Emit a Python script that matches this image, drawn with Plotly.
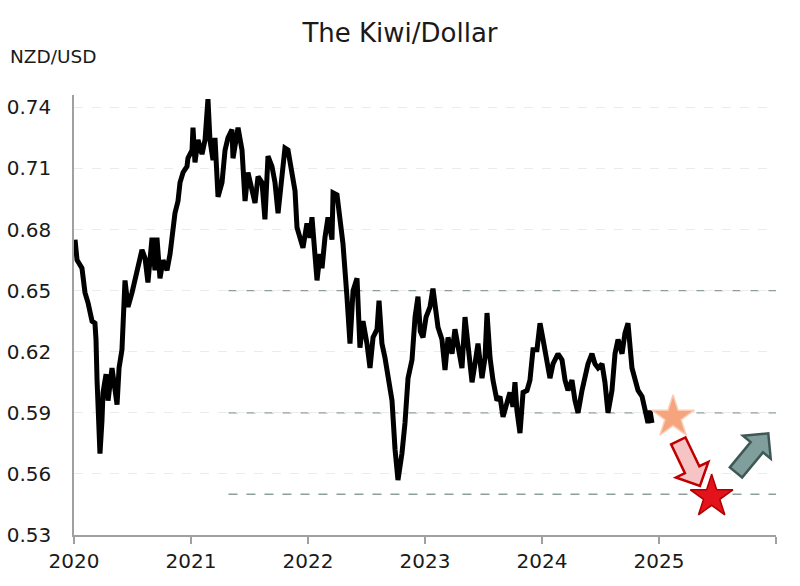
import math
import plotly.graph_objects as go

# ---------------- data ----------------
years = [
    2020.009, 2020.026, 2020.068, 2020.094, 2020.120, 2020.154, 2020.179, 2020.188, 2020.197, 2020.205,
    2020.222, 2020.239, 2020.248, 2020.274, 2020.291, 2020.325, 2020.350, 2020.368, 2020.385, 2020.410,
    2020.436, 2020.462, 2020.496, 2020.521, 2020.547, 2020.581, 2020.607, 2020.632, 2020.667, 2020.692,
    2020.709, 2020.735, 2020.761, 2020.795, 2020.821, 2020.846, 2020.863, 2020.889, 2020.906, 2020.932,
    2020.966, 2020.974, 2021.009, 2021.017, 2021.034, 2021.060, 2021.094, 2021.120, 2021.145, 2021.162,
    2021.188, 2021.205, 2021.231, 2021.265, 2021.291, 2021.316, 2021.350, 2021.359, 2021.402, 2021.436,
    2021.462, 2021.487, 2021.521, 2021.547, 2021.573, 2021.607, 2021.632, 2021.658, 2021.692, 2021.718,
    2021.744, 2021.778, 2021.803, 2021.829, 2021.863, 2021.889, 2021.906, 2021.932, 2021.957, 2021.991,
    2022.017, 2022.034, 2022.060, 2022.077, 2022.103, 2022.120, 2022.145, 2022.171, 2022.205, 2022.214,
    2022.248, 2022.274, 2022.299, 2022.333, 2022.359, 2022.385, 2022.419, 2022.444, 2022.470, 2022.504,
    2022.530, 2022.556, 2022.590, 2022.607, 2022.632, 2022.658, 2022.684, 2022.718, 2022.744, 2022.769,
    2022.803, 2022.829, 2022.855, 2022.889, 2022.915, 2022.940, 2022.960, 2022.983, 2023.009, 2023.043,
    2023.068, 2023.085, 2023.111, 2023.145, 2023.171, 2023.197, 2023.231, 2023.256, 2023.282, 2023.316,
    2023.342, 2023.368, 2023.402, 2023.427, 2023.453, 2023.487, 2023.513, 2023.530, 2023.556, 2023.581,
    2023.615, 2023.641, 2023.667, 2023.701, 2023.726, 2023.752, 2023.769, 2023.786, 2023.812, 2023.838,
    2023.872, 2023.897, 2023.923, 2023.957, 2023.983, 2024.009, 2024.043, 2024.068, 2024.094, 2024.137,
    2024.171, 2024.197, 2024.222, 2024.256, 2024.282, 2024.308, 2024.342, 2024.368, 2024.393, 2024.427,
    2024.453, 2024.479, 2024.513, 2024.538, 2024.564, 2024.598, 2024.624, 2024.650, 2024.684, 2024.709,
    2024.735, 2024.769, 2024.795, 2024.821, 2024.855, 2024.880, 2024.906, 2024.923, 2024.940,
]
nzdusd = [
    0.675, 0.665, 0.661, 0.649, 0.644, 0.635, 0.634, 0.626, 0.606, 0.586,
    0.570, 0.586, 0.600, 0.609, 0.596, 0.612, 0.603, 0.594, 0.612, 0.621,
    0.655, 0.642, 0.649, 0.655, 0.661, 0.670, 0.666, 0.654, 0.676, 0.660,
    0.676, 0.656, 0.665, 0.660, 0.668, 0.678, 0.688, 0.694, 0.703, 0.708,
    0.711, 0.715, 0.719, 0.730, 0.713, 0.724, 0.717, 0.724, 0.744, 0.724,
    0.714, 0.725, 0.696, 0.703, 0.719, 0.725, 0.729, 0.715, 0.730, 0.719,
    0.694, 0.708, 0.699, 0.693, 0.706, 0.703, 0.685, 0.716, 0.711, 0.703,
    0.688, 0.706, 0.720, 0.719, 0.708, 0.699, 0.681, 0.675, 0.671, 0.683,
    0.676, 0.686, 0.668, 0.655, 0.668, 0.661, 0.676, 0.686, 0.675, 0.698,
    0.697, 0.686, 0.673, 0.647, 0.624, 0.650, 0.656, 0.622, 0.635, 0.624,
    0.612, 0.627, 0.631, 0.645, 0.624, 0.617, 0.609, 0.596, 0.572, 0.557,
    0.570, 0.585, 0.607, 0.616, 0.637, 0.647, 0.630, 0.627, 0.637, 0.642,
    0.651, 0.644, 0.632, 0.626, 0.611, 0.627, 0.619, 0.631, 0.622, 0.612,
    0.637, 0.622, 0.605, 0.614, 0.624, 0.607, 0.617, 0.639, 0.617, 0.606,
    0.596, 0.598, 0.588, 0.595, 0.600, 0.593, 0.605, 0.591, 0.580, 0.600,
    0.601, 0.606, 0.621, 0.621, 0.634, 0.626, 0.614, 0.607, 0.614, 0.619,
    0.616, 0.606, 0.601, 0.606, 0.596, 0.590, 0.601, 0.609, 0.614, 0.619,
    0.614, 0.612, 0.614, 0.605, 0.590, 0.601, 0.619, 0.626, 0.619, 0.629,
    0.634, 0.612, 0.607, 0.601, 0.598, 0.591, 0.585, 0.591, 0.585,
]

x_ticks = [2020, 2021, 2022, 2023, 2024, 2025, 2026]
x_tick_text = ["2020", "2021", "2022", "2023", "2024", "2025", ""]
y_ticks = [0.53, 0.56, 0.59, 0.62, 0.65, 0.68, 0.71, 0.74]
y_tick_text = ["0.53", "0.56", "0.59", "0.62", "0.65", "0.68", "0.71", "0.74"]

ref_levels = [0.65, 0.59, 0.55]
ref_start = 2021.32
ref_end = 2026.0

# scenario markers (year, value)
star_now = (2025.12, 0.5879)
star_low = (2025.45, 0.5488)
arrow_down = ((2025.165, 0.5762), (2025.350, 0.5541))
arrow_up = ((2025.658, 0.5607), (2025.934, 0.5799))

X_RANGE = [2020, 2026]
Y_RANGE = [0.53, 0.74604]

# ---------------- layout geometry ----------------
W, H = 800, 586
M_L, M_R, M_T, M_B = 74, 24, 95, 51
PW = W - M_L - M_R
PH = H - M_T - M_B
SX = PW / (X_RANGE[1] - X_RANGE[0])
SY = PH / (Y_RANGE[1] - Y_RANGE[0])

FONT = "DejaVu Sans"


def block_arrow(p0, p1, shaft=8.0, head=18.0, head_len=18.0):
    x0, y0 = p0[0] * SX, p0[1] * SY
    x1, y1 = p1[0] * SX, p1[1] * SY
    dx, dy = x1 - x0, y1 - y0
    L = math.hypot(dx, dy)
    ux, uy = dx / L, dy / L
    nx, ny = -uy, ux
    bx, by = x1 - ux * head_len, y1 - uy * head_len
    pts = [
        (x0 + nx * shaft, y0 + ny * shaft),
        (bx + nx * shaft, by + ny * shaft),
        (bx + nx * head, by + ny * head),
        (x1, y1),
        (bx - nx * head, by - ny * head),
        (bx - nx * shaft, by - ny * shaft),
        (x0 - nx * shaft, y0 - ny * shaft),
    ]
    pts = [(px / SX, py / SY) for px, py in pts]
    return "M " + " L ".join(f"{a:.5f},{b:.6f}" for a, b in pts) + " Z"


fig = go.Figure()

fig.add_trace(go.Scatter(
    x=years, y=nzdusd, mode="lines",
    line=dict(color="#000000", width=5),
    hoverinfo="skip", showlegend=False,
))

fig.add_trace(go.Scatter(
    x=[star_now[0]], y=[star_now[1]], mode="markers",
    marker=dict(symbol="star", size=32, color="#f5a47e",
                line=dict(color="#f9cdb3", width=1.5)),
    showlegend=False, hoverinfo="skip",
))
fig.add_trace(go.Scatter(
    x=[star_low[0]], y=[star_low[1]], mode="markers",
    marker=dict(symbol="star", size=32, color="#e3121b",
                line=dict(color="#b00000", width=1.5)),
    showlegend=False, hoverinfo="skip",
))

shapes = []
for lvl in ref_levels:
    shapes.append(dict(type="line", xref="x", yref="y", x0=ref_start, x1=ref_end,
                       y0=lvl, y1=lvl, layer="below",
                       line=dict(color="#8f9d9d", width=1.3, dash="dash")))
shapes.append(dict(type="path", xref="x", yref="y", path=block_arrow(*arrow_down),
                   fillcolor="#f7c4c5", line=dict(color="#c00000", width=2.5)))
shapes.append(dict(type="path", xref="x", yref="y", path=block_arrow(*arrow_up),
                   fillcolor="#7f9e9c", line=dict(color="#3f5856", width=2.5)))

fig.update_layout(
    width=W, height=H,
    margin=dict(l=M_L, r=M_R, t=M_T, b=M_B, autoexpand=False),
    paper_bgcolor="white", plot_bgcolor="white",
    font=dict(family=FONT, color="#1a1a1a"),
    title=dict(text="The Kiwi/Dollar", x=0.5, xanchor="center",
               y=1 - 33 / H, yref="container", yanchor="middle",
               font=dict(family=FONT, size=26, color="#1a1a1a")),
    shapes=shapes,
    annotations=[dict(text="NZD/USD", xref="paper", yref="paper",
                      x=(8 - M_L) / PW, y=(H - M_B - 57) / PH,
                      xanchor="left", yanchor="middle", showarrow=False,
                      font=dict(family=FONT, size=18.5, color="#1a1a1a"))],
    xaxis=dict(range=X_RANGE, tickvals=x_ticks, ticktext=x_tick_text,
               automargin=False,
               showgrid=False, zeroline=False, showline=True,
               linecolor="#a0a0a0", linewidth=1.5, ticks="outside",
               ticklen=7, tickcolor="#a0a0a0", tickwidth=1.5,
               tickfont=dict(family=FONT, size=20, color="#1a1a1a")),
    yaxis=dict(range=Y_RANGE, tickvals=y_ticks, ticktext=y_tick_text,
               automargin=False,
               showgrid=True, gridcolor="#ebebeb", griddash="dash", gridwidth=1,
               zeroline=False, showline=True, linecolor="#a0a0a0", linewidth=1.5,
               ticks="", ticklabelstandoff=17,
               tickfont=dict(family=FONT, size=20, color="#1a1a1a")),
)

fig.write_html("out.html")
